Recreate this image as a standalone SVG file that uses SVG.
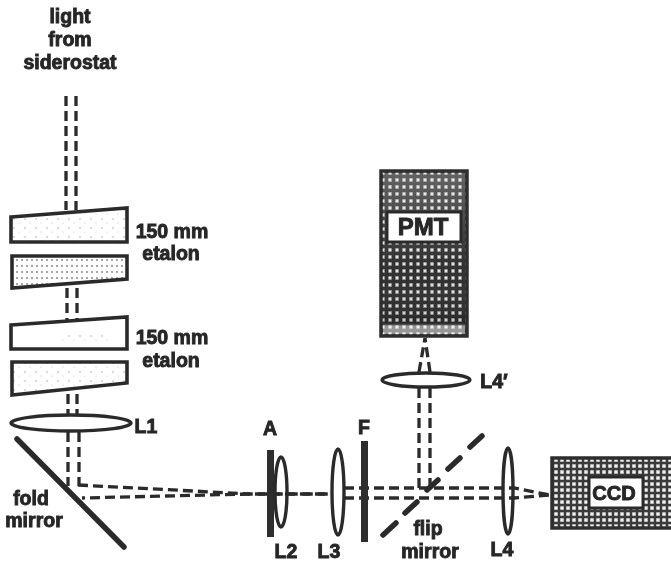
<svg xmlns="http://www.w3.org/2000/svg" width="671" height="567" viewBox="0 0 671 567">
<defs>
<filter id="soft" x="-5%" y="-5%" width="110%" height="110%"><feGaussianBlur stdDeviation="0.55"/></filter>
<pattern id="lt" width="11" height="9" patternUnits="userSpaceOnUse"><circle cx="3" cy="3" r="0.8" fill="#aaa"/><circle cx="8" cy="7" r="0.6" fill="#bbb"/></pattern>
<pattern id="md" width="5" height="6" patternUnits="userSpaceOnUse"><circle cx="2" cy="2" r="1" fill="#888"/></pattern>
<pattern id="dk" width="7" height="7" patternUnits="userSpaceOnUse"><rect width="7" height="7" fill="#777"/><rect width="7" height="3" fill="#2f2f2f"/><rect width="3" height="7" fill="#2f2f2f"/><circle cx="5" cy="5" r="1.4" fill="#e4e4e4"/></pattern>
<pattern id="dk2" width="6" height="6" patternUnits="userSpaceOnUse"><rect width="6" height="6" fill="#999"/><rect width="6" height="2" fill="#3a3a3a"/><rect width="2" height="6" fill="#3a3a3a"/><circle cx="4" cy="4" r="1.6" fill="#f2f2f2"/></pattern>
<linearGradient id="fade" x1="0" y1="0" x2="0" y2="1"><stop offset="0" stop-color="#fff" stop-opacity=".25"/><stop offset=".6" stop-color="#fff" stop-opacity="0"/><stop offset=".93" stop-color="#000" stop-opacity=".12"/><stop offset=".95" stop-color="#fff" stop-opacity=".5"/></linearGradient>
</defs>
<style>
text{font-family:"Liberation Sans",Arial,sans-serif;font-weight:bold;fill:#262626;text-anchor:middle;stroke:#262626;stroke-width:.9}
.t{font-size:19.5px}
.b{fill:none;stroke:#2b2b2b;stroke-width:3.3;stroke-dasharray:10 5}
.e{stroke:#2b2b2b;stroke-width:3.6}
.l{fill:#fff;stroke:#2b2b2b;stroke-width:3.4}
.o{fill:none;stroke:#2b2b2b;stroke-width:3.4}
.m{stroke:#2b2b2b;stroke-linecap:round;fill:none;stroke-width:5.5}
.s{fill:#2f2f2f}
</style>
<rect width="671" height="567" fill="#fff"/>
<g filter="url(#soft)">
<g id="connectors">
<path class="b" d="M66 96V210M76 96V210"/>
<path class="b" d="M67 288V320M77 288V320"/>
<path class="b" d="M68 394V415M77 394V415"/>
<path class="b" d="M68 432V486M79 432V486"/>
<path class="b" d="M78 485L250 494L330 494"/>
<path class="b" d="M82 498L250 494L330 494" stroke-dashoffset="7"/>
<path class="b" d="M344 488H514L550 495"/>
<path class="b" d="M344 498H514L550 495"/>
<path class="b" d="M419 388V488M430 388V488"/>
<path class="b" d="M419 372L425 338M430 372L425 338" stroke-dasharray="9 4"/>
</g>
<g id="etalon1a"><path class="e" d="M11 217L127 208V242H11Z" fill="url(#lt)"/></g>
<g id="etalon1b"><path class="e" d="M12 256H127V279L12 288Z" fill="url(#md)"/></g>
<g id="etalon2a"><path class="e" d="M11 325L127 317V349H11Z" fill="#fff"/><path d="M60 332h50v12h-50z" fill="url(#lt)"/></g>
<g id="etalon2b"><path class="e" d="M12 362H127V383L12 395Z" fill="url(#lt)"/></g>
<g id="L1"><ellipse class="l" cx="71" cy="423" rx="60" ry="8"/></g>
<g id="fold-mirror"><path class="m" d="M17 439L124 547"/></g>
<g id="A"><rect class="s" x="267" y="450" width="7" height="87"/></g>
<g id="L2"><ellipse class="o" cx="281" cy="492" rx="6" ry="35"/></g>
<g id="L3"><ellipse class="o" cx="338" cy="492" rx="6" ry="43"/></g>
<g id="F"><rect class="s" x="361" y="441" width="7" height="101"/></g>
<g id="flip-mirror"><path class="m" stroke-linecap="butt" d="M383 535L396 523M405 513L417 502M427 490L438 480M448 469L460 458M470 447L482 436"/></g>
<g id="L4"><ellipse class="o" cx="508" cy="491" rx="5" ry="43"/></g>
<g id="L4-prime"><ellipse class="l" cx="426" cy="380" rx="44" ry="7"/></g>
<g id="PMT"><rect x="381" y="171" width="86" height="165" fill="url(#dk)" stroke="#2f2f2f" stroke-width="3.5"/><rect x="383" y="173" width="82" height="161" fill="url(#fade)"/><rect x="387" y="212" width="74" height="30" fill="#fff" stroke="#2b2b2b" stroke-width="3"/><text x="423" y="235" font-size="24">PMT</text></g>
<g id="CCD"><rect x="552" y="458" width="122" height="70" fill="url(#dk2)" stroke="#2f2f2f" stroke-width="3.5"/><rect x="589" y="477" width="54" height="31" fill="#fff" stroke="#2b2b2b" stroke-width="3"/><text x="614" y="500" font-size="20">CCD</text></g>
<g id="labels">
<text class="t" x="70" y="23">light</text><text class="t" x="70" y="46">from</text><text class="t" x="70" y="69">siderostat</text>
<text class="t" x="172" y="238">150 mm</text><text class="t" x="171" y="260">etalon</text>
<text class="t" x="172" y="344">150 mm</text><text class="t" x="171" y="367">etalon</text>
<text class="t" x="146" y="433">L1</text>
<text class="t" x="31" y="505">fold</text><text class="t" x="34" y="527">mirror</text>
<text class="t" x="270" y="435">A</text><text class="t" x="286" y="558">L2</text><text class="t" x="329" y="558">L3</text>
<text class="t" x="364" y="434">F</text><text class="t" x="428" y="535">flip</text><text class="t" x="430" y="558">mirror</text>
<text class="t" x="502" y="556">L4</text><text class="t" x="494" y="388">L4′</text>
</g>
</g>
</svg>
